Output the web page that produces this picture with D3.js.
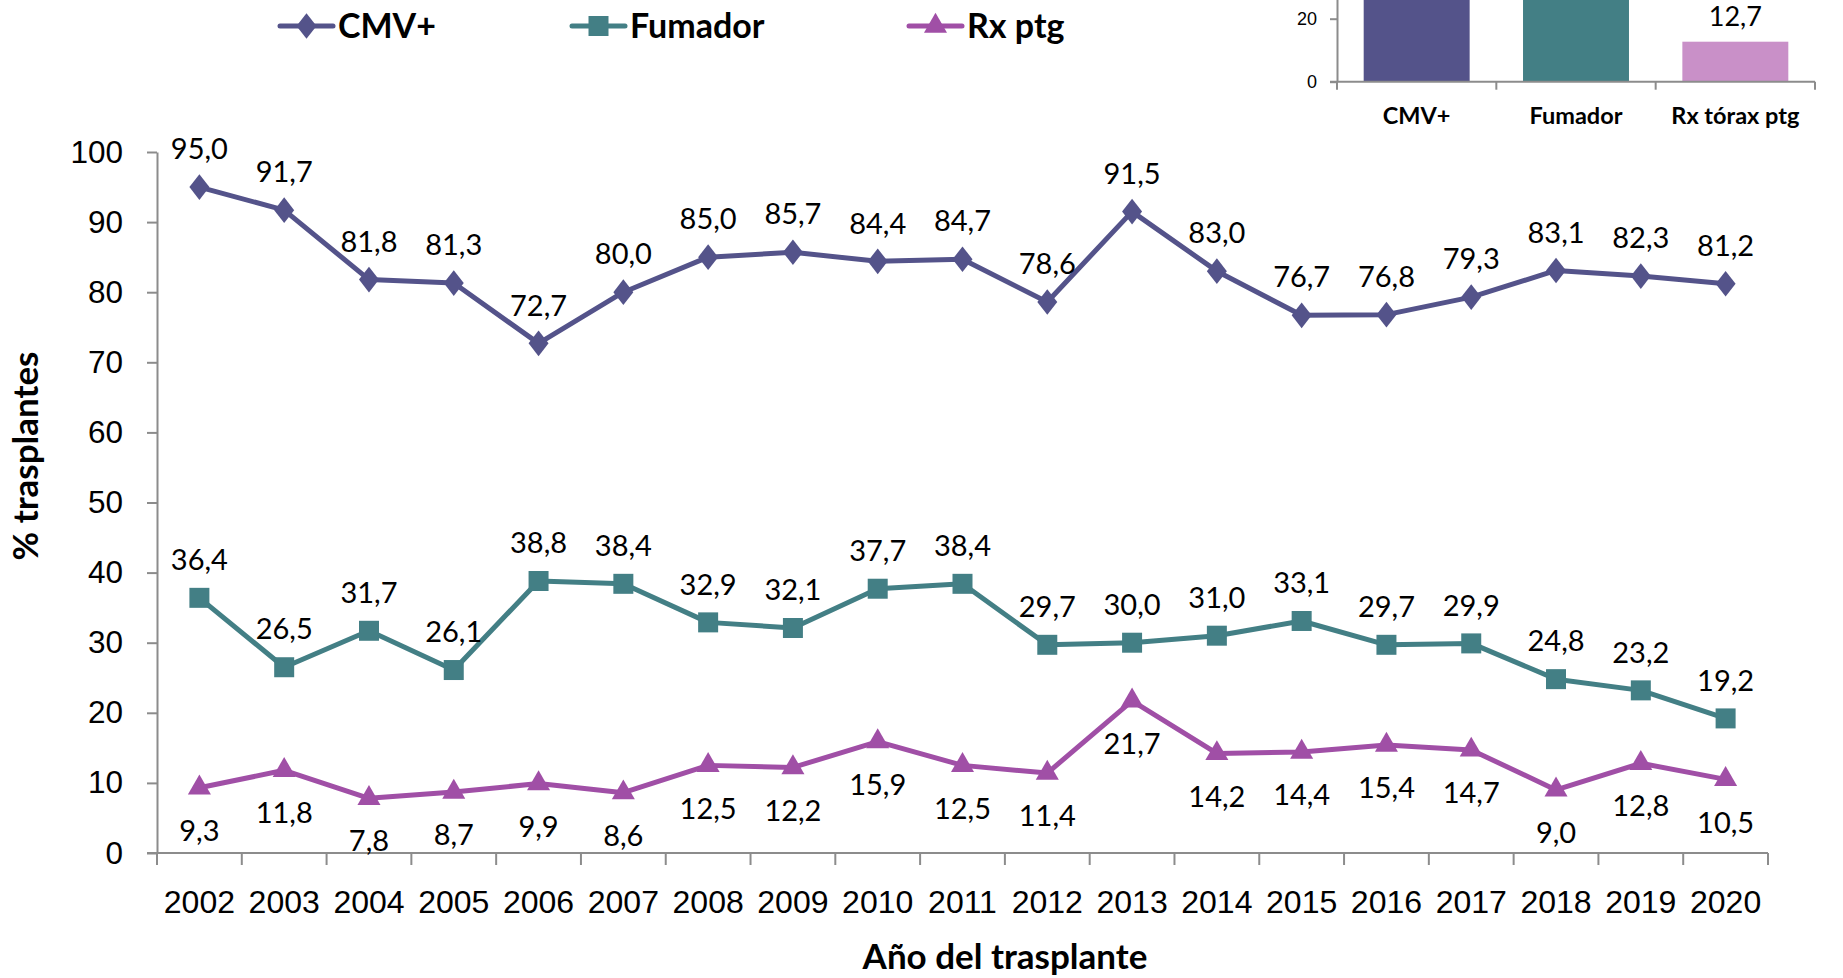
<!DOCTYPE html>
<html>
<head>
<meta charset="utf-8">
<script src="https://cdnjs.cloudflare.com/ajax/libs/d3/7.8.5/d3.min.js"></script>
<style>
  body { margin: 0; background: #fff; }
  svg { display: block; font-family: Lato, 'Open Sans', sans-serif; }
  .axis path, .axis line { stroke: #8c8c8c; stroke-width: 2; }
</style>
</head>
<body>
<div id="chart"></div>
<script>
const years = ['2002', '2003', '2004', '2005', '2006', '2007', '2008', '2009', '2010',
  '2011', '2012', '2013', '2014', '2015', '2016', '2017', '2018', '2019', '2020']
const cmv = [95.0, 91.7, 81.8, 81.3, 72.7, 80.0, 85.0, 85.7, 84.4, 84.7, 78.6, 91.5, 83.0, 76.7, 76.8, 79.3, 83.1, 82.3, 81.2]
const fumador = [36.4, 26.5, 31.7, 26.1, 38.8, 38.4, 32.9, 32.1, 37.7, 38.4, 29.7, 30.0, 31.0, 33.1, 29.7, 29.9, 24.8, 23.2, 19.2]
const rx = [9.3, 11.8, 7.8, 8.7, 9.9, 8.6, 12.5, 12.2, 15.9, 12.5, 11.4, 21.7, 14.2, 14.4, 15.4, 14.7, 9.0, 12.8, 10.5]
const yTicks = [0, 10, 20, 30, 40, 50, 60, 70, 80, 90, 100]

// inset bar chart (totals); only the last value is visible in the picture
const insetCats = ['CMV+', 'Fumador', 'Rx tórax ptg']
const insetValues = [82.6, 31.0, 12.7]
const insetTicks = [0, 20, 40, 60, 80, 100]

const width = 1843
const height = 978
const margin = { top: 152, right: 75, bottom: 125, left: 157 }

const svg = d3.select('#chart')
  .append('svg')
  .attr('width', width)
  .attr('height', height)

const x = d3.scaleBand()
  .domain(years)
  .range([margin.left, width - margin.right])
  .padding(0)

const y = d3.scaleLinear()
  .domain([0, 100])
  .range([height - margin.bottom, margin.top])

const fmt = v => v.toFixed(1).replace('.', ',')

// axes
const axis = svg.append('g').classed('axis', true)

axis.append('g')
  .attr('transform', `translate(${margin.left},0)`)
  .call(d3.axisLeft(y).tickValues(yTicks).tickSize(10).tickSizeOuter(0).tickPadding(24))
  .call(g => g.selectAll('text').style('font-size', '31.5px').attr('fill', '#000'))

const xAxis = axis.append('g')
  .attr('transform', `translate(0,${y(0)})`)

xAxis.append('line')
  .attr('x1', margin.left - 10)
  .attr('x2', x.range()[1])
  .attr('y1', 0)
  .attr('y2', 0)

// Excel style ticks on category boundaries
xAxis.selectAll('.bound')
  .data(years.concat(['end']))
  .join('line')
  .classed('bound', true)
  .attr('x1', (d, i) => i < years.length ? x(d) : x.range()[1])
  .attr('x2', (d, i) => i < years.length ? x(d) : x.range()[1])
  .attr('y1', 0)
  .attr('y2', 12)

xAxis.append('g')
  .call(d3.axisBottom(x).tickSize(0).tickPadding(37))
  .call(g => g.select('.domain').remove())
  .call(g => g.selectAll('text').style('font-size', '32px').attr('fill', '#000'))

// axis titles
svg.append('text')
  .attr('transform', `translate(26,456) rotate(-90)`)
  .attr('text-anchor', 'middle')
  .attr('dy', '0.35em')
  .style('font-size', '35px')
  .style('font-weight', 'bold')
  .text('% trasplantes')

svg.append('text')
  .attr('x', 1005)
  .attr('y', 957)
  .attr('text-anchor', 'middle')
  .attr('dy', '0.35em')
  .style('font-size', '35px')
  .style('font-weight', 'bold')
  .text('Año del trasplante')

// series
const series = [
  { name: 'CMV+', values: cmv, color: '#54538a', symbol: d3.symbolDiamond, size: 190, labelDy: -38, legendX: 280 },
  { name: 'Fumador', values: fumador, color: '#437f85', symbol: d3.symbolSquare, size: 400, labelDy: -38, legendX: 572 },
  { name: 'Rx ptg', values: rx, color: '#a04fa6', symbol: d3.symbolTriangle, size: 230, labelDy: 43, legendX: 909 }
]

const cx = d => x(d) + x.bandwidth() / 2

const line = d3.line()
  .x(d => cx(d.year))
  .y(d => y(d.value))

series.forEach(s => {
  const pts = years.map((yr, i) => ({ year: yr, value: s.values[i] }))
  const g = svg.append('g')

  g.append('path')
    .datum(pts)
    .attr('d', line)
    .attr('fill', 'none')
    .attr('stroke', s.color)
    .attr('stroke-width', 5)
    .attr('stroke-linejoin', 'round')

  g.selectAll('path.marker')
    .data(pts)
    .join('path')
    .classed('marker', true)
    .attr('transform', d => `translate(${cx(d.year)},${y(d.value)})${s.symbol === d3.symbolDiamond ? ' scale(1.35,1)' : ''}`)
    .attr('d', d3.symbol().type(s.symbol).size(s.size))
    .attr('fill', s.color)

  g.selectAll('text')
    .data(pts)
    .join('text')
    .attr('x', d => cx(d.year))
    .attr('y', d => y(d.value) + s.labelDy)
    .attr('dy', '0.35em')
    .attr('text-anchor', 'middle')
    .style('font-size', '29px')
    .text(d => fmt(d.value))

  // legend
  const lg = svg.append('g').attr('transform', `translate(${s.legendX},26)`)
  lg.append('line')
    .attr('x1', 0).attr('x2', 53)
    .attr('stroke', s.color)
    .attr('stroke-width', 5)
    .attr('stroke-linecap', 'round')
  lg.append('path')
    .attr('transform', `translate(26.5,0)${s.symbol === d3.symbolDiamond ? ' scale(1.35,1)' : ''}`)
    .attr('d', d3.symbol().type(s.symbol).size(s.size))
    .attr('fill', s.color)
  lg.append('text')
    .attr('x', 58)
    .attr('dy', '0.35em')
    .style('font-size', '34px')
    .style('font-weight', 'bold')
    .text(s.name)
})

// inset bar chart
const ix = d3.scaleBand()
  .domain(insetCats)
  .range([1337, 1815])
  .padding(0)

const iy = d3.scaleLinear()
  .domain([0, 100])
  .range([81.7, 81.7 - 315])

const insetColors = ['#54538a', '#437f85', '#c990c8']
const barW = ix.bandwidth() * 0.665

const inset = svg.append('g')

inset.selectAll('rect')
  .data(insetValues)
  .join('rect')
  .attr('x', (d, i) => ix(insetCats[i]) + (ix.bandwidth() - barW) / 2)
  .attr('width', barW)
  .attr('y', d => iy(d))
  .attr('height', d => iy(0) - iy(d))
  .attr('fill', (d, i) => insetColors[i])

// value labels: the ones above the top edge are not in the picture
inset.selectAll('text.val')
  .data(insetValues.map((v, i) => ({ v, cat: insetCats[i] })).filter(d => iy(d.v) - 30 > 0))
  .join('text')
  .classed('val', true)
  .attr('x', d => ix(d.cat) + ix.bandwidth() / 2)
  .attr('y', d => iy(d.v) - 25)
  .attr('dy', '0.35em')
  .attr('text-anchor', 'middle')
  .style('font-size', '27px')
  .text(d => fmt(d.v))

const insetAxis = inset.append('g').classed('axis', true)

insetAxis.append('g')
  .attr('transform', 'translate(1337,0)')
  .call(d3.axisLeft(iy).tickValues(insetTicks.filter(t => iy(t) > 0)).tickSize(7).tickSizeOuter(0).tickPadding(13))
  .call(g => g.selectAll('text').style('font-size', '18px').attr('fill', '#000'))

const ixAxis = insetAxis.append('g')
  .attr('transform', `translate(0,${iy(0)})`)

ixAxis.append('line')
  .attr('x1', 1330).attr('x2', 1815)

ixAxis.selectAll('.bound')
  .data(insetCats.concat(['end']))
  .join('line')
  .classed('bound', true)
  .attr('x1', (d, i) => i < insetCats.length ? ix(d) : ix.range()[1])
  .attr('x2', (d, i) => i < insetCats.length ? ix(d) : ix.range()[1])
  .attr('y1', 0)
  .attr('y2', 8)

ixAxis.selectAll('text.cat')
  .data(insetCats)
  .join('text')
  .classed('cat', true)
  .attr('x', d => ix(d) + ix.bandwidth() / 2)
  .attr('y', 34)
  .attr('dy', '0.35em')
  .attr('text-anchor', 'middle')
  .style('font-size', '23.5px')
  .style('font-weight', 'bold')
  .text(d => d)
</script>
</body>
</html>
